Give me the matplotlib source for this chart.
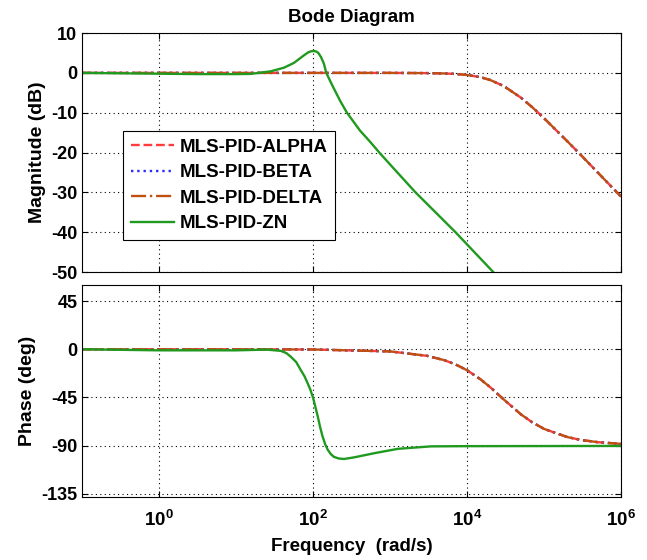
import numpy as np
import matplotlib
matplotlib.use('Agg')
import matplotlib.pyplot as plt

plt.rcParams['font.family'] = ['Liberation Sans', 'DejaVu Sans']
plt.rcParams['font.weight'] = 'bold'
plt.rcParams['axes.unicode_minus'] = False
plt.rcParams['mathtext.fontset'] = 'custom'
plt.rcParams['mathtext.rm'] = 'Liberation Sans:bold'
plt.rcParams['mathtext.bf'] = 'Liberation Sans:bold'

# frequency grid (rad/s) for the three MLS-PID controllers (curves overlap)
w_mls = [0.1, 1, 10, 100, 1000, 3000, 5000, 7000, 1e4, 1.5e4, 2e4, 3e4,
         5e4, 7e4, 1e5, 2e5, 3e5, 5e5, 1e6]
mag_alpha = [0, 0, 0, 0, 0, -0.05, -0.14, -0.26, -0.52, -1.09, -1.79, -3.32,
             -6.22, -8.6, -11.39, -17.16, -20.6, -25.05, -31.06]
phase_alpha = [0, 0, 0, -0.2, -2.0, -6.1, -10.1, -14.0, -19.6, -28.2, -35.5,
               -47.0, -60.8, -68.2, -74.4, -82.0, -84.7, -86.8, -88.4]
mag_beta = list(mag_alpha)
phase_beta = list(phase_alpha)
mag_delta = list(mag_alpha)
phase_delta = list(phase_alpha)

# Ziegler-Nichols tuned loop
w_zn_mag = [0.1, 1, 3.16, 10, 15.5, 28.2, 41.7, 56.2, 75.9, 87.1, 95.5, 102,
            110, 117, 127, 138, 148, 178, 224, 275, 407, 550, 724, 1000,
            2140, 7080, 21900, 1e6]
mag_zn = [0, -0.2, -0.3, -0.3, -0.25, 0.4, 1.3, 2.5, 4.4, 5.2, 5.45, 5.5,
          5.35, 5.0, 3.9, 2.3, 0.0, -3.2, -7.0, -10.0, -14.5, -17.3, -20.0,
          -23.0, -30, -40, -50, -83]
w_zn_ph = [0.1, 1, 10, 25, 38, 44.7, 51.3, 60.3, 69.2, 77.6, 85.1, 92.3, 100,
           107, 115, 123, 132, 143, 155, 170, 186, 214, 251, 339, 631, 1260,
           3390, 1e4, 1e6]
phase_zn = [0, -1, -1, -0.3, -1.5, -3.5, -7, -12, -19.5, -25.5, -32, -38,
            -45.5, -54, -63, -72.5, -81, -88.5, -94, -98, -100.5, -102, -102.5,
            -101, -97, -93, -90.7, -90.5, -90.3]

labels = ['MLS-PID-ALPHA', 'MLS-PID-BETA', 'MLS-PID-DELTA', 'MLS-PID-ZN']

fig = plt.figure(figsize=(6.47, 5.6), dpi=100)
ax1 = fig.add_axes([0.127, 0.514, 0.833, 0.427])
ax2 = fig.add_axes([0.127, 0.1125, 0.833, 0.3785])

c_alpha = '#ff3b3b'
c_beta = '#2b2bff'
c_delta = '#c0500f'
c_zn = '#1f9a1f'

ax1.plot(w_mls, mag_alpha, '--', color=c_alpha, lw=1.7, label=labels[0])
ax1.plot(w_mls, mag_beta, ':', color=c_beta, lw=1.7, label=labels[1])
ax1.plot(w_mls, mag_delta, '-.', color=c_delta, lw=1.7, label=labels[2])
ax1.plot(w_zn_mag, mag_zn, '-', color=c_zn, lw=1.7, label=labels[3])

ax2.plot(w_mls, phase_alpha, '--', color=c_alpha, lw=1.7)
ax2.plot(w_mls, phase_beta, ':', color=c_beta, lw=1.7)
ax2.plot(w_mls, phase_delta, '-.', color=c_delta, lw=1.7)
ax2.plot(w_zn_ph, phase_zn, '-', color=c_zn, lw=1.7)

xt = [1, 1e2, 1e4, 1e6]
for ax in (ax1, ax2):
    ax.set_xscale('log')
    ax.set_xlim(0.1, 1e6)
    ax.set_xticks(xt)
    ax.minorticks_off()
    ax.grid(True, which='major', linestyle=(0, (1, 3)), color='black', lw=0.8)
    ax.tick_params(direction='in', top=True, right=True, labelsize=13, length=4)
    for s in ax.spines.values():
        s.set_linewidth(0.8)

ax1.set_xticklabels([])
ax1.set_ylim(-50, 10)
ax1.set_yticks([10, 0, -10, -20, -30, -40, -50])
ax1.set_ylabel('Magnitude (dB)', fontsize=14, fontweight='bold', labelpad=4)
ax1.set_title('Bode Diagram', fontsize=13.5, fontweight='bold', pad=8)

ax2.set_ylim(-138, 60)
ax2.set_yticks([45, 0, -45, -90, -135])
ax2.set_xticklabels([r'$\mathbf{10^{0}}$', r'$\mathbf{10^{2}}$',
                     r'$\mathbf{10^{4}}$', r'$\mathbf{10^{6}}$'])
ax2.tick_params(axis='x', labelsize=13.5, pad=9)
ax2.set_ylabel('Phase (deg)', fontsize=14, fontweight='bold', labelpad=4)
ax2.set_xlabel('Frequency  (rad/s)', fontsize=13.5, fontweight='bold', labelpad=6)

leg = ax1.legend(loc='upper left', bbox_to_anchor=(0.076, 0.59), fontsize=13.5,
                 handlelength=2.3, handletextpad=0.3, borderpad=0.4,
                 labelspacing=0.45, borderaxespad=0, fancybox=False,
                 framealpha=1)
leg.get_frame().set_edgecolor('black')
leg.get_frame().set_linewidth(0.8)
for t in leg.get_texts():
    t.set_fontweight('bold')

fig.savefig('out.png', dpi=100)
